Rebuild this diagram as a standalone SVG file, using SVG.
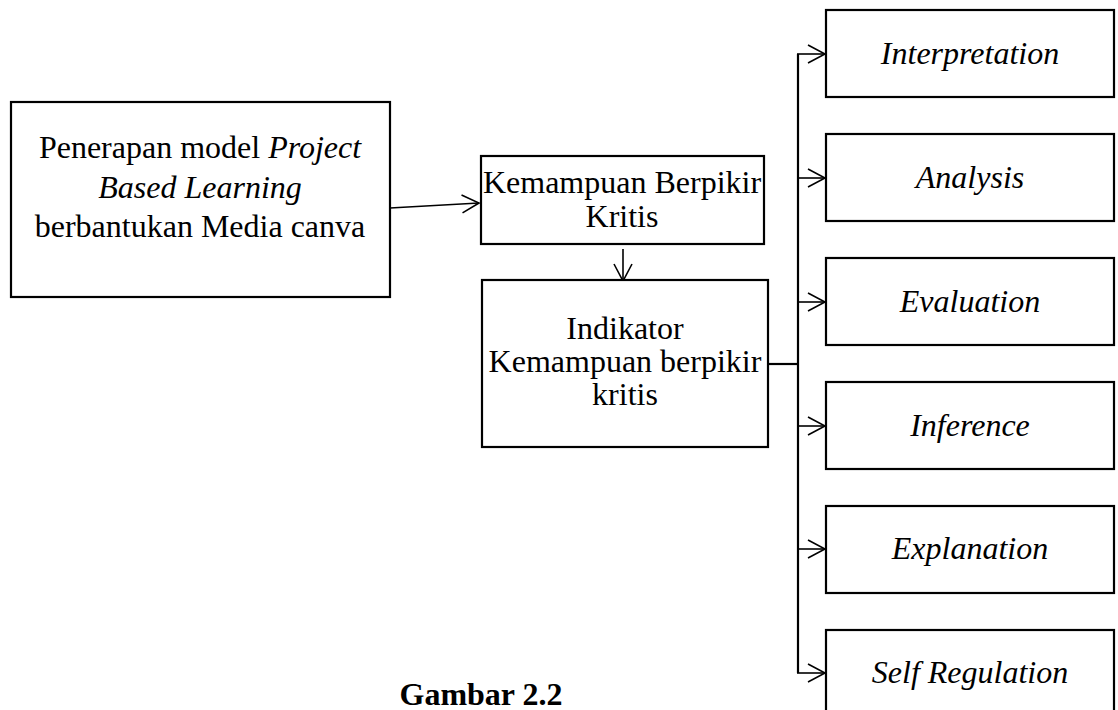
<svg xmlns="http://www.w3.org/2000/svg" width="1118" height="710" viewBox="0 0 1118 710">
<style>
.box{fill:#fff;stroke:#000;stroke-width:2.2}
.t{font-family:"Liberation Serif","Times New Roman",serif;font-size:32px;fill:#000;text-anchor:middle}
.i{font-style:italic}
.c{fill:none;stroke:#000;stroke-width:1.6}
.trunk{fill:none;stroke:#000;stroke-width:2.2}
</style>
<defs>
<marker id="ah" markerUnits="userSpaceOnUse" markerWidth="22" markerHeight="22" refX="18" refY="11" orient="auto">
<path d="M1,2 L18,11 L1,20" fill="none" stroke="#000" stroke-width="1.6"/>
</marker>
</defs>
<rect width="1118" height="710" fill="#fff"/>
<g id="connectors">
<line class="c" x1="390" y1="208" x2="479" y2="203" marker-end="url(#ah)"/>
<line class="c" x1="623" y1="249" x2="623" y2="281" marker-end="url(#ah)"/>
<line class="trunk" x1="768" y1="364" x2="798" y2="364" stroke-width="3"/>
<line class="trunk" x1="798" y1="54" x2="798" y2="673"/>
<line class="c" x1="797" y1="54" x2="825" y2="54" marker-end="url(#ah)"/>
<line class="c" x1="797" y1="178" x2="825" y2="178" marker-end="url(#ah)"/>
<line class="c" x1="797" y1="302" x2="825" y2="302" marker-end="url(#ah)"/>
<line class="c" x1="797" y1="426" x2="825" y2="426" marker-end="url(#ah)"/>
<line class="c" x1="797" y1="549" x2="825" y2="549" marker-end="url(#ah)"/>
<line class="c" x1="797" y1="673" x2="825" y2="673" marker-end="url(#ah)"/>
</g>
<g id="n-penerapan">
<rect class="box" x="11" y="102" width="379" height="195"/>
<text class="t" x="200" y="158">Penerapan model <tspan class="i">Project</tspan></text>
<text class="t i" x="200" y="198">Based Learning</text>
<text class="t" x="200" y="237">berbantukan Media canva</text>
</g>
<g id="n-kemampuan">
<rect class="box" x="481" y="156" width="283" height="88"/>
<text class="t" x="622" y="193">Kemampuan Berpikir</text>
<text class="t" x="622" y="227">Kritis</text>
</g>
<g id="n-indikator">
<rect class="box" x="482" y="280" width="286" height="167"/>
<text class="t" x="625" y="339">Indikator</text>
<text class="t" x="625" y="372">Kemampuan berpikir</text>
<text class="t" x="625" y="405">kritis</text>
</g>
<g id="n-interpretation">
<rect class="box" x="826" y="10" width="288" height="87"/>
<text class="t i" x="970" y="64">Interpretation</text>
</g>
<g id="n-analysis">
<rect class="box" x="826" y="134" width="288" height="87"/>
<text class="t i" x="970" y="188">Analysis</text>
</g>
<g id="n-evaluation">
<rect class="box" x="826" y="258" width="288" height="87"/>
<text class="t i" x="970" y="312">Evaluation</text>
</g>
<g id="n-inference">
<rect class="box" x="826" y="382" width="288" height="87"/>
<text class="t i" x="970" y="436">Inference</text>
</g>
<g id="n-explanation">
<rect class="box" x="826" y="506" width="288" height="87"/>
<text class="t i" x="970" y="559">Explanation</text>
</g>
<g id="n-selfregulation">
<rect class="box" x="826" y="630" width="288" height="87"/>
<text class="t i" x="970" y="683">Self Regulation</text>
</g>
<g id="caption">
<text class="t" x="481" y="705" font-weight="bold">Gambar 2.2</text>
</g>
</svg>
